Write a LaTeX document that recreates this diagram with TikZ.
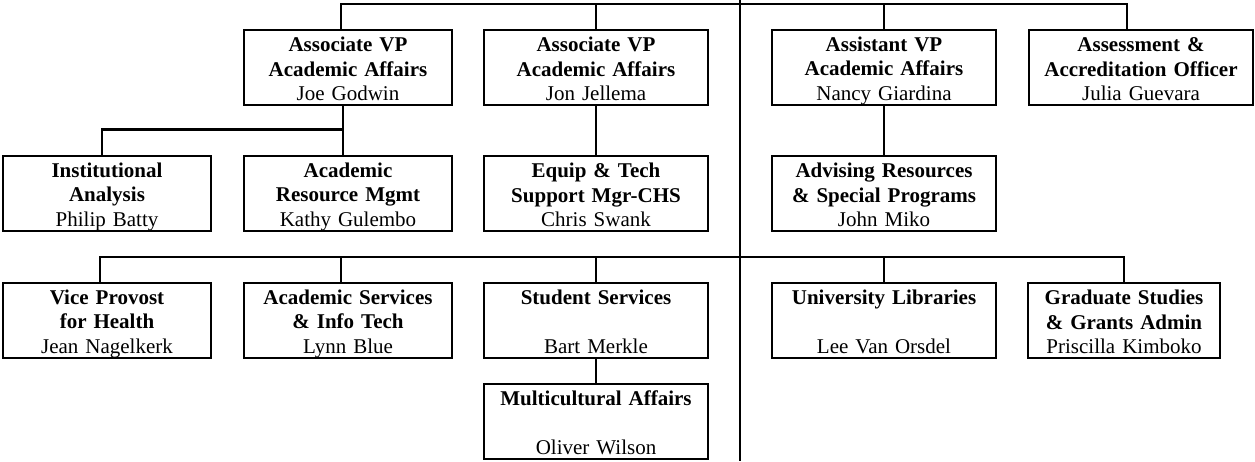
\documentclass[tikz,border=0pt]{standalone}
\usepackage{fontspec}
\setmainfont{Liberation Serif}

\begin{document}
\begin{tikzpicture}[x=1pt, y={(0,-1pt)},
                office/.style={draw, black, line width=2.8pt, align=center, inner sep=0pt,
                    text width=#1pt, minimum height=75pt,
                    font=\fontsize{21}{24.5}\selectfont\bfseries,
                    execute at begin node=\rule{0pt}{21.4pt},
                    execute at end node=\rule[-4.4pt]{0pt}{4.4pt}},
                link/.style={black, line width=2.4pt}]
                \useasboundingbox (0, 0) rectangle (1255, 461);
                \node [office=208] (godwin) at (348, 67.5) {Associate VP\\Academic Affairs\\\mdseries Joe Godwin};
                \node [office=224] (jellema) at (596, 67.5) {Associate VP\\Academic Affairs\\\mdseries Jon Jellema};
                \node [office=224] (giardina) at (884, 67.5) {Assistant VP\\Academic Affairs\\\mdseries Nancy Giardina};
                \node [office=224] (guevara) at (1141, 67.5) {Assessment \&\\Accreditation Officer\\\mdseries Julia Guevara};
                \node [office=208] (batty) at (107, 193.5) {Institutional\\Analysis\\\mdseries Philip Batty};
                \node [office=208] (gulembo) at (348, 193.5) {Academic\\Resource Mgmt\\\mdseries Kathy Gulembo};
                \node [office=224] (swank) at (596, 193.5) {Equip \& Tech\\Support Mgr-CHS\\\mdseries Chris Swank};
                \node [office=224] (miko) at (884, 193.5) {Advising Resources\\\& Special Programs\\\mdseries John Miko};
                \node [office=208] (nagelkerk) at (107, 320.5) {Vice Provost\\for Health\\\mdseries Jean Nagelkerk};
                \node [office=208] (blue) at (348, 320.5) {Academic Services\\\& Info Tech\\\mdseries Lynn Blue};
                \node [office=224] (merkle) at (596, 320.5) {Student Services\\~\\\mdseries Bart Merkle};
                \node [office=224] (orsdel) at (884, 320.5) {University Libraries\\~\\\mdseries Lee Van Orsdel};
                \node [office=192] (kimboko) at (1124, 320.5) {Graduate Studies\\\& Grants Admin\\\mdseries Priscilla Kimboko};
                \node [office=224] (wilson) at (596, 421.5) {Multicultural Affairs\\~\\\mdseries Oliver Wilson};
                \coordinate (root) at (740, 0);
                \coordinate (base) at (740, 461);
                \coordinate (topbar) at (740, 4);
                \coordinate (lowbar) at (740, 257);
                \draw [black, line width=2pt] (root) -- (base);
                \draw [link] ([xshift=-7pt]godwin.north) |- (topbar) -| ([xshift=-14pt]guevara.north);
                \draw [link] (jellema.north) -- (jellema.north |- topbar);
                \draw [link] (giardina.north) -- (giardina.north |- topbar);
                \draw [link] ([xshift=-5pt]godwin.south) -- ([xshift=-5pt]gulembo.north);
                \draw [link] ([xshift=-5pt]gulembo.north) ++(0, -25) -| ([xshift=-5pt]batty.north);
                \draw [link] (jellema.south) -- (swank.north);
                \draw [link] (giardina.south) -- (miko.north);
                \draw [link] ([xshift=-7pt]nagelkerk.north) |- (lowbar) -| (kimboko.north);
                \draw [link] ([xshift=-7pt]blue.north) -- ([xshift=-7pt]blue.north |- lowbar);
                \draw [link] (merkle.north) -- (merkle.north |- lowbar);
                \draw [link] (orsdel.north) -- (orsdel.north |- lowbar);
                \draw [link] (merkle.south) -- (wilson.north);
            \end{tikzpicture}
\end{document}
